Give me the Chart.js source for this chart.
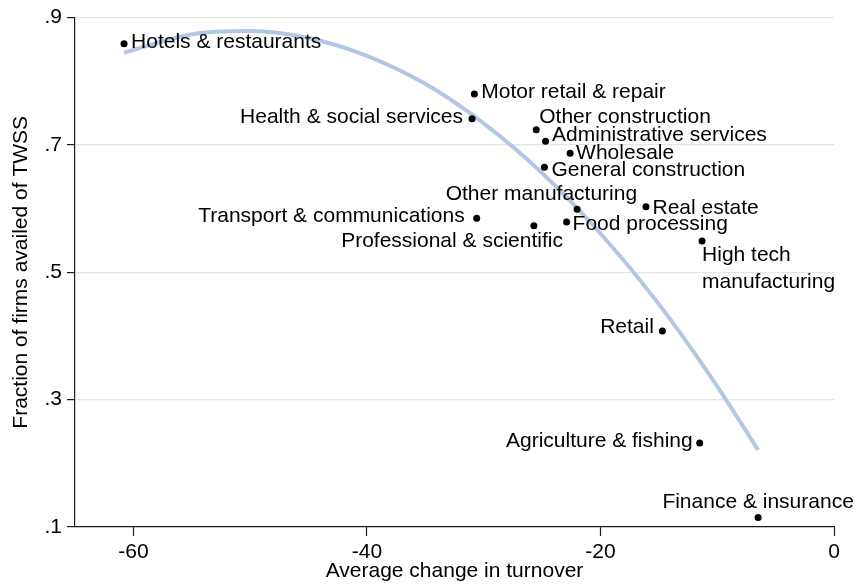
<!DOCTYPE html>
<html>
<head>
<meta charset="utf-8">
<script src="https://cdn.jsdelivr.net/npm/chart.js@4/dist/chart.umd.min.js"></script>
<style>
  html, body { margin: 0; padding: 0; background: #fff; }
  #wrap { width: 858px; height: 584px; }
</style>
</head>
<body>
<div id="wrap"><canvas id="twssChart" width="858" height="584"></canvas></div>
<script>
// Sectors (multi-line names are arrays)
const sectors = [
    'Hotels & restaurants', 'Motor retail & repair', 'Health & social services',
    'Other construction', 'Administrative services', 'Wholesale',
    'General construction', 'Other manufacturing', 'Real estate',
    'Food processing', 'Transport & communications', 'Professional & scientific',
    ['High tech', 'manufacturing'], 'Retail', 'Agriculture & fishing',
    'Finance & insurance'
];
const turnoverChange = [-60.8, -30.8, -31.0, -25.5, -24.7, -22.6, -24.8, -22.0, -16.1, -22.9, -30.6, -25.7, -11.3, -14.7, -11.5, -6.5];
const shareTwss = [0.859, 0.780, 0.741, 0.724, 0.706, 0.687, 0.665, 0.599, 0.603, 0.579, 0.585, 0.573, 0.549, 0.408, 0.232, 0.115];

// Quadratic fit line
const fitX = [-60.8, -55, -50, -45, -40, -35, -30, -25, -20, -15, -10, -6.5];
const fitY = [0.845, 0.874, 0.879, 0.868, 0.840, 0.796, 0.734, 0.656, 0.561, 0.450, 0.321, 0.221];

const xTicks = [-60, -40, -20, 0];
const yTicks = [0.1, 0.3, 0.5, 0.7, 0.9];
const yTickLabels = ['.1', '.3', '.5', '.7', '.9'];

// Marker label placement (pixel offsets from the dot)
const labelPlacement = [
    { dx: 7, dy: -1.5, align: 'left' },
    { dx: 7, dy: -1.5, align: 'left' },
    { dx: -9, dy: -2, align: 'right' },
    { dx: 3, dy: -12, align: 'left' },
    { dx: 6.5, dy: -6, align: 'left' },
    { dx: 6, dy: 0, align: 'left' },
    { dx: 7, dy: 3, align: 'left' },
    { dx: 60, dy: -15.5, align: 'right' },
    { dx: 6.5, dy: 1, align: 'left' },
    { dx: 6, dy: 2.5, align: 'left' },
    { dx: -12, dy: -2, align: 'right' },
    { dx: 29, dy: 15.5, align: 'right' },
    { dx: 0, dy: 14.5, align: 'left' },
    { dx: -8.5, dy: -3.5, align: 'right' },
    { dx: -7, dy: -1.6, align: 'right' },
    { dx: 0, dy: -15.5, align: 'center' }
];

const FONT = '"Liberation Sans", Arial, sans-serif';
const LINE_GAP = 26.5;

const pointLabels = {
    id: 'pointLabels',
    afterDatasetsDraw(chart) {
        const meta = chart.getDatasetMeta(0);
        const ctx = chart.ctx;
        ctx.save();
        ctx.fillStyle = '#000';
        ctx.font = '21px ' + FONT;
        ctx.textBaseline = 'middle';
        meta.data.forEach((pt, i) => {
            const p = labelPlacement[i];
            const lines = Array.isArray(sectors[i]) ? sectors[i] : [sectors[i]];
            ctx.textAlign = p.align;
            lines.forEach((txt, k) => {
                ctx.fillText(txt, pt.x + p.dx, pt.y + p.dy + k * LINE_GAP);
            });
        });
        ctx.restore();
    }
};

new Chart(document.getElementById('twssChart'), {
    type: 'scatter',
    data: {
        datasets: [{
            label: 'Sectors',
            data: turnoverChange.map((x, i) => ({ x: x, y: shareTwss[i] })),
            backgroundColor: '#000',
            borderColor: '#000',
            pointRadius: 3.5,
            pointBorderWidth: 0,
            order: 0
        }, {
            type: 'line',
            label: 'Fit',
            data: fitX.map((x, i) => ({ x: x, y: fitY[i] })),
            borderColor: '#b5c5e6',
            borderWidth: 4,
            pointRadius: 0,
            fill: false,
            cubicInterpolationMode: 'monotone',
            order: 1
        }]
    },
    options: {
        responsive: false,
        animation: false,
        events: [],
        layout: { padding: { top: 17, right: 24, left: 0, bottom: 0 } },
        plugins: {
            legend: { display: false },
            tooltip: { enabled: false }
        },
        scales: {
            x: {
                type: 'linear',
                min: -65,
                max: 0,
                afterBuildTicks: s => { s.ticks = xTicks.map(v => ({ value: v })); },
                afterFit: s => { s.height = 57; },
                grid: { drawOnChartArea: false, tickLength: 9, tickColor: '#1a1a1a', tickWidth: 1.2 },
                border: { color: '#1a1a1a', width: 1.2 },
                ticks: {
                    color: '#000',
                    padding: 4,
                    maxRotation: 0,
                    font: { family: FONT, size: 21 }
                },
                title: {
                    display: true,
                    text: 'Average change in turnover',
                    color: '#000',
                    font: { family: FONT, size: 21, lineHeight: 1.2 },
                    padding: { top: 0, bottom: 0 }
                }
            },
            y: {
                type: 'linear',
                min: 0.1,
                max: 0.9,
                afterBuildTicks: s => { s.ticks = yTicks.map(v => ({ value: v })); },
                afterFit: s => { s.width = 75; },
                grid: {
                    color: c => (c.tick && c.tick.value === 0.1) ? 'rgba(0,0,0,0)' : '#e4e4e4',
                    lineWidth: 1.2,
                    tickLength: 8,
                    tickColor: '#1a1a1a',
                    tickWidth: 1.2
                },
                border: { color: '#1a1a1a', width: 1.2 },
                ticks: {
                    color: '#000',
                    padding: 5,
                    font: { family: FONT, size: 21 },
                    callback: (v) => yTickLabels[yTicks.indexOf(v)] ?? ''
                },
                title: {
                    display: true,
                    text: 'Fraction of firms availed of TWSS',
                    color: '#000',
                    font: { family: FONT, size: 21, lineHeight: 1.2 },
                    padding: { top: 9, bottom: 0 }
                }
            }
        }
    },
    plugins: [pointLabels]
});
</script>
</body>
</html>
